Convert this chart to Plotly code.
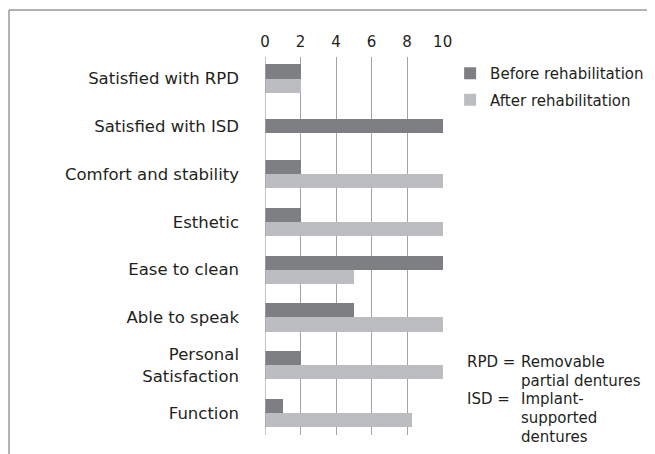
import plotly.graph_objects as go

categories = ["Satisfied with RPD", "Satisfied with ISD", "Comfort and stability", "Esthetic",
              "Ease to clean", "Able to speak", "Personal<br>Satisfaction", "Function"]
before = [2, 10, 2, 2, 10, 5, 2, 1]
after = [2, None, 10, 10, 5, 10, 10, 8.3]
x_ticks = [0, 2, 4, 6, 8, 10]
note_left = ["RPD =", "", "ISD =", "", ""]
note_right = ["Removable", "partial dentures", "Implant-", "supported", "dentures"]

W = 0.295
off_before = [(-W / 2 if a is None else -W) for a in after]

FONT = "DejaVu Sans"
TXT = "#231f20"

# figure is drawn at page offset (8, 8) due to body margin
L, T = 257, 49          # plot area left / top in figure coords
PW, PH = 178, 378       # plot area size
FW, FH = 647, 446

fig = go.Figure()
fig.add_trace(go.Bar(y=categories, x=before, orientation="h", name="Before rehabilitation",
                     marker=dict(color="#7e7f82", line=dict(width=0)), width=W, offset=off_before,
                     legendgroup="b"))
fig.add_trace(go.Bar(y=categories, x=after, orientation="h", name="After rehabilitation",
                     marker=dict(color="#bcbdc0", line=dict(width=0)), width=W, offset=0,
                     legendgroup="a"))

fig.update_layout(
    width=FW, height=FH,
    margin=dict(l=L, r=FW - L - PW, t=T, b=FH - T - PH, autoexpand=False),
    paper_bgcolor="white", plot_bgcolor="white",
    barmode="overlay",
    font=dict(family=FONT, size=15, color=TXT),
    xaxis=dict(side="top", range=[0, 10.02], tickvals=x_ticks, showgrid=True,
               gridcolor="#a3a4a6", gridwidth=1.3, zeroline=False, showline=False,
               ticks="", ticklabelstandoff=6, layer="above traces",
               tickfont=dict(size=15, color=TXT)),
    yaxis=dict(range=[7.46, -0.45], showgrid=False, zeroline=False, showline=False,
               ticks="", ticklabelstandoff=25, tickfont=dict(size=16.5, color=TXT)),
    legend=dict(x=1.04, y=1.0, xanchor="left", yanchor="top", traceorder="grouped",
                tracegroupgap=4, bgcolor="rgba(0,0,0,0)", font=dict(size=15, color=TXT)),
    bargap=0,
)

fig.add_shape(type="line", xref="x", yref="paper", x0=0, x1=0, y0=0, y1=1,
              line=dict(color="#a3a4a6", width=1.3), layer="above")

# frame lines
fx = (1 - L) / PW
fy = (T + PH - 2) / PH
fig.add_shape(type="line", xref="paper", yref="paper", x0=fx, x1=(FW - L) / PW + 0.1, y0=fy, y1=fy,
              line=dict(color="#9a9a9a", width=1.5))
fig.add_shape(type="line", xref="paper", yref="paper", x0=fx, x1=fx, y0=fy, y1=-0.1,
              line=dict(color="#9a9a9a", width=1.5))

line_y = [354, 373, 391, 410, 429]
for yl, a, b in zip(line_y, note_left, note_right):
    yp = (T + PH - yl) / PH
    if a:
        fig.add_annotation(xref="paper", yref="paper", x=(457 - L) / PW, y=yp, xanchor="left",
                           yanchor="middle", text=a, showarrow=False,
                           font=dict(size=15, color=TXT, family=FONT))
    fig.add_annotation(xref="paper", yref="paper", x=(511 - L) / PW, y=yp, xanchor="left",
                       yanchor="middle", text=b, showarrow=False,
                       font=dict(size=15, color=TXT, family=FONT))

fig.write_html("out.html")
